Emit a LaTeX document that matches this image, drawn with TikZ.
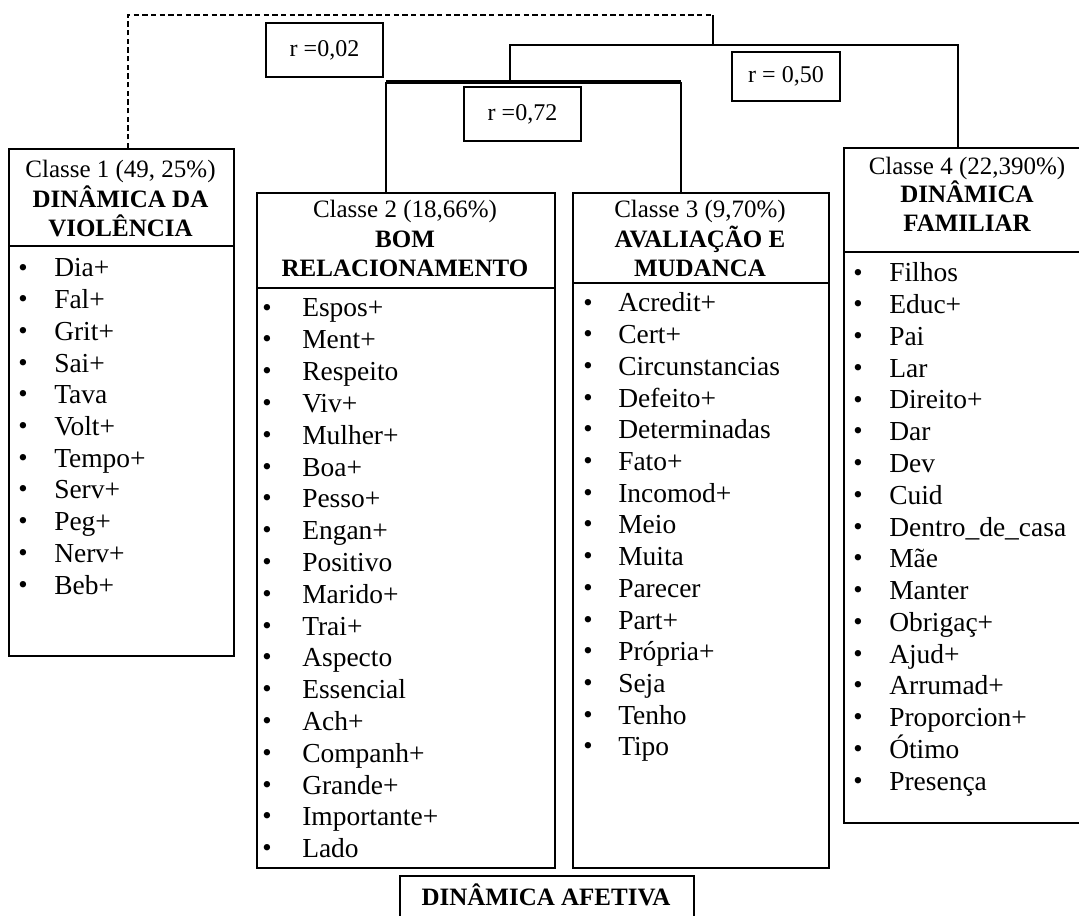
\documentclass[tikz,border=0pt]{standalone}
\usepackage{fontspec}
\setmainfont{Liberation Serif}
\begin{document}
\begin{tikzpicture}[x=0.75pt,y=-0.75pt,
  box/.style={draw, line width=1.3pt, rectangle, inner sep=0pt, anchor=north west},
  hd/.style={anchor=base, font=\fontsize{18.75}{22}\selectfont, inner sep=0pt},
  hdb/.style={anchor=base, font=\fontsize{18.75}{22}\selectfont\bfseries, inner sep=0pt},
  itm/.style={anchor=base west, font=\fontsize{20.6}{24}\selectfont, inner sep=0pt},
  bul/.style={anchor=center, font=\fontsize{20}{22}\selectfont, inner sep=0pt},
  rbox/.style={draw, line width=1.3pt, rectangle, inner sep=0pt, font=\fontsize{18}{21}\selectfont},
  conn/.style={line width=1.1pt}]
\useasboundingbox (0,0) rectangle (1079,916);

% class boxes
\node[box, minimum width=225*0.75pt, minimum height=507*0.75pt] (c1) at (8,148) {};
\node[box, minimum width=298*0.75pt, minimum height=675*0.75pt] (c2) at (256,192) {};
\node[box, minimum width=256*0.75pt, minimum height=675*0.75pt] (c3) at (572,192) {};
\node[box, minimum width=248*0.75pt, minimum height=675*0.75pt] (c4) at (843,147) {};

% dividers
\coordinate (v1) at (0,246);
\coordinate (v2) at (0,288);
\coordinate (v3) at (0,283);
\coordinate (v4) at (0,252);
\draw[line width=1.3pt] (c1.west |- v1) -- (c1.east |- v1);
\draw[line width=1.3pt] (c2.west |- v2) -- (c2.east |- v2);
\draw[line width=1.3pt] (c3.west |- v3) -- (c3.east |- v3);
\draw[line width=1.3pt] (c4.west |- v4) -- (c4.east |- v4);

% headers
\node[hd]  (h1a) at (120.5,178) {Classe 1 (49, 25\%)};
\node[hdb] (h1b) at (120.5,208) {DINÂMICA DA};
\node[hdb] (h1c) at (120.5,237) {VIOLÊNCIA};
\node[hd]  (h2a) at (405,218) {Classe 2 (18,66\%)};
\node[hdb] (h2b) at (405,248) {BOM};
\node[hdb] (h2c) at (405,277) {RELACIONAMENTO};
\node[hd]  (h3a) at (700,218) {Classe 3 (9,70\%)};
\node[hdb] (h3b) at (700,248) {AVALIAÇÃO E};
\node[hdb] (h3c) at (700,277) {MUDANCA};
\node[hd]  (h4a) at (967,175) {Classe 4 (22,390\%)};
\node[hdb] (h4b) at (967,203) {DINÂMICA};
\node[hdb] (h4c) at (967,232) {FAMILIAR};

% lists
\foreach \w [count=\i from 0] in {Dia+,Fal+,Grit+,Sai+,Tava,Volt+,Tempo+,Serv+,Peg+,Nerv+,Beb+}{
  \node[bul] (ab\i) at (23,{270+31.7*\i}) {•};
  \node[itm] (a\i) at (54,{277+31.7*\i}) {\w};
}
\foreach \w [count=\i from 0] in {Espos+,Ment+,Respeito,Viv+,Mulher+,Boa+,Pesso+,Engan+,Positivo,Marido+,Trai+,Aspecto,Essencial,Ach+,Companh+,Grande+,Importante+,Lado}{
  \node[bul] (bb\i) at (267,{310+31.8*\i}) {•};
  \node[itm] (b\i) at (302,{317+31.8*\i}) {\w};
}
\foreach \w [count=\i from 0] in {Acredit+,Cert+,Circunstancias,Defeito+,Determinadas,Fato+,Incomod+,Meio,Muita,Parecer,Part+,Própria+,Seja,Tenho,Tipo}{
  \node[bul] (cb\i) at (588,{305+31.7*\i}) {•};
  \node[itm] (cc\i) at (618,{312+31.7*\i}) {\w};
}
\foreach \w [count=\i from 0] in {Filhos,Educ+,Pai,Lar,Direito+,Dar,Dev,Cuid,Dentro\_de\_casa,Mãe,Manter,Obrigaç+,Ajud+,Arrumad+,Proporcion+,Ótimo,Presença}{
  \node[bul] (db\i) at (858,{275+31.75*\i}) {•};
  \node[itm] (d\i) at (889,{282+31.75*\i}) {\w};
}

% r boxes
\node[rbox, minimum width=117*0.75pt, minimum height=54*0.75pt] (r02) at (324.5,50) {r =0,02};
\node[rbox, minimum width=117*0.75pt, minimum height=54*0.75pt] (r72) at (522.5,114) {r =0,72};
\node[rbox, minimum width=108*0.75pt, minimum height=49*0.75pt] (r50) at (786,76.5) {r = 0,50};

% dendrogram connectors
\coordinate (t1) at (128,15);
\coordinate (t2) at (713,15);
\coordinate (m1) at (713,45);
\coordinate (m0) at (510,45);
\coordinate (m2) at (958,45);
\coordinate (k0) at (510,82);
\coordinate (k1) at (386,82);
\coordinate (k2) at (681,82);
\draw[conn, dashed, dash pattern=on 4pt off 2.5pt] (t1 |- c1.north) -- (t1) -- (t2);
\draw[conn] (t2) -- (m1);
\draw[conn] (k0) -- (m0) -- (m2) -- (m2 |- c4.north);
\draw[line width=3.2pt] (k1) -- (k2);
\draw[conn] (k1) -- (k1 |- c2.north);
\draw[conn] (k2) -- (k2 |- c3.north);

% bottom title
\node[box, minimum width=294*0.75pt, minimum height=60*0.75pt] (af) at (399,875) {};
\node[hdb] (aft) at (546,905) {DINÂMICA AFETIVA};
\end{tikzpicture}
\end{document}
